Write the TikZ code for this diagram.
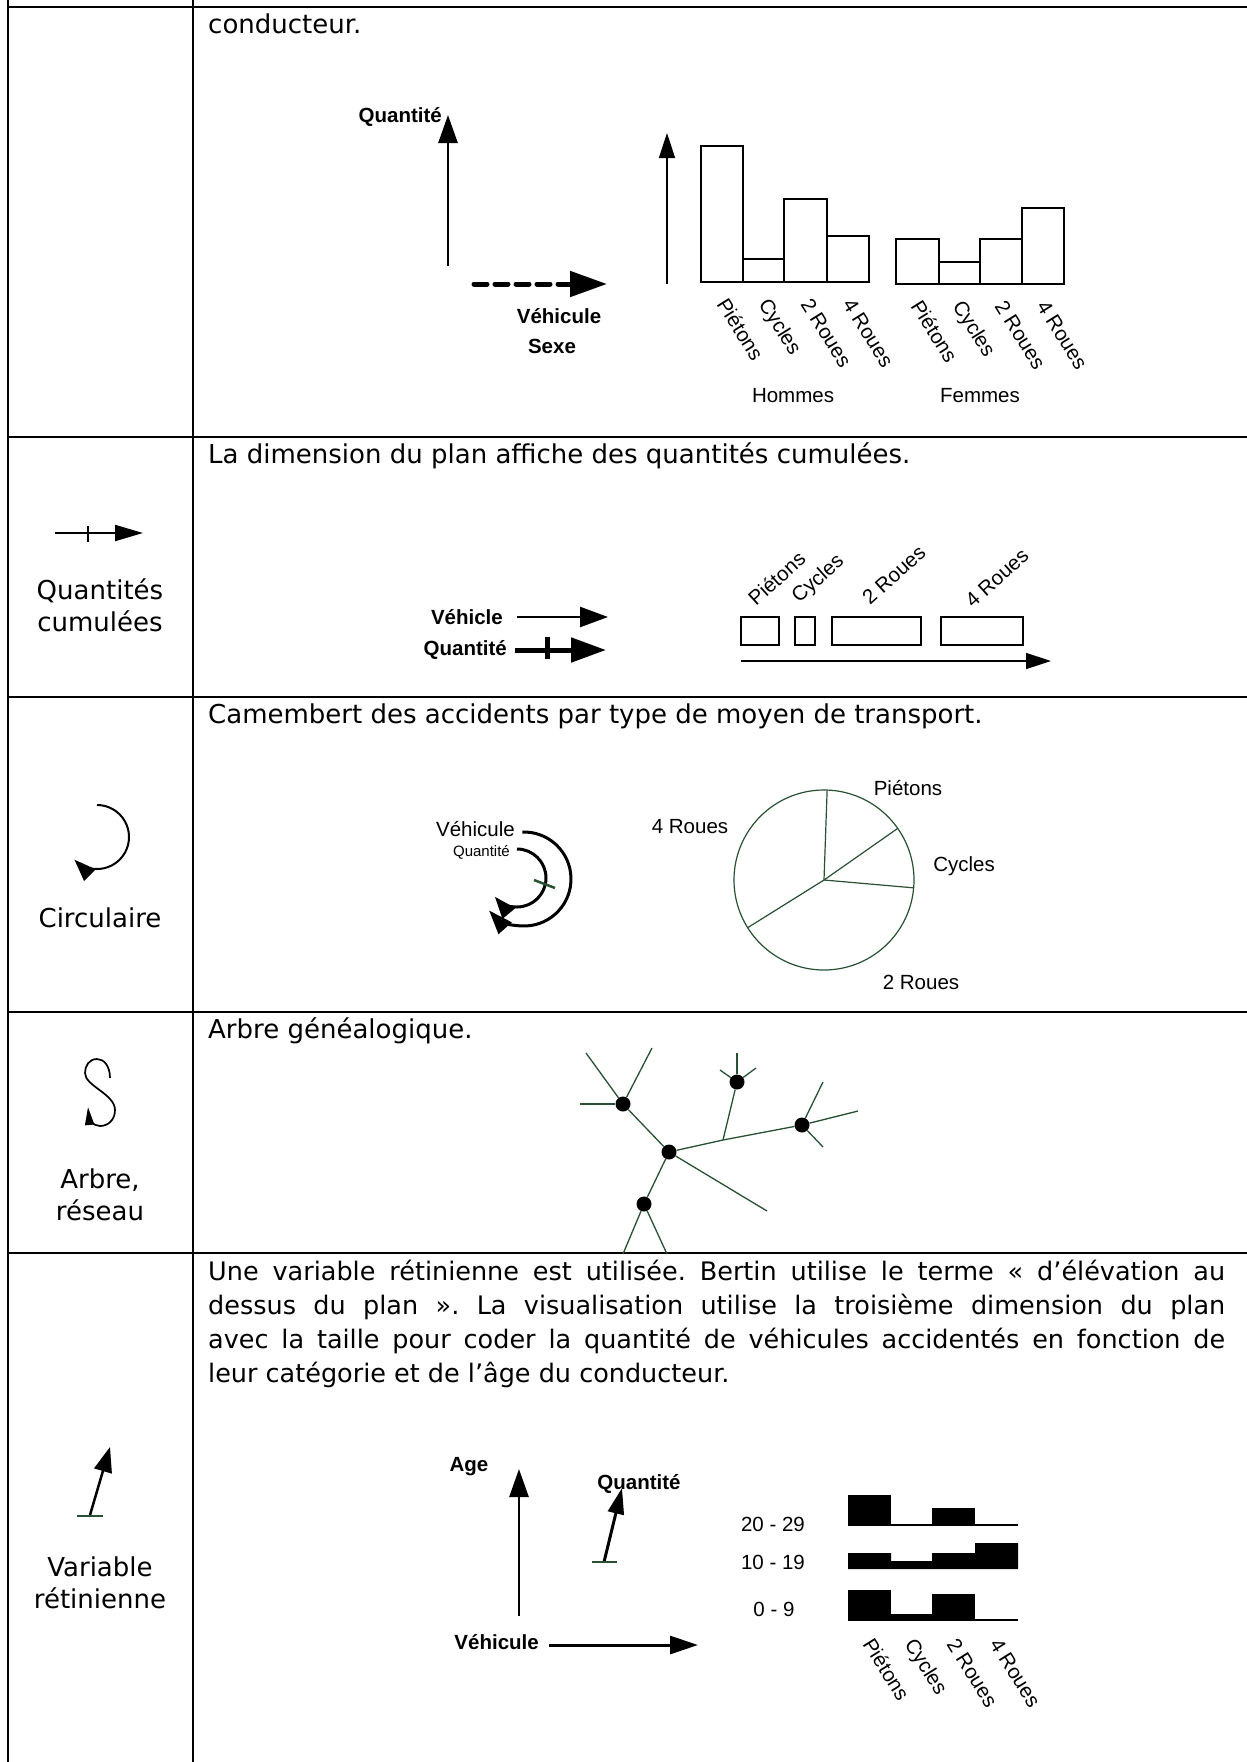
\documentclass[tikz,border=0pt]{standalone}
\usepackage{fontspec}
\setmainfont{DejaVu Sans}
\newfontfamily\chartfont{Liberation Sans}
\usetikzlibrary{positioning,arrows.meta,calc}
\definecolor{rimgreen}{RGB}{40,80,50}
\frenchspacing

\begin{document}
\begin{tikzpicture}[
  x=1pt,y=-1pt,
  rule/.style={line width=2.2pt},
  body/.style={font=\fontsize{26}{33}\selectfont,inner sep=0pt,anchor=base west},
  side/.style={font=\fontsize{26}{32}\selectfont,inner sep=0pt,align=center},
  lbl/.style={font=\chartfont\fontsize{20.5}{24}\selectfont,inner sep=0pt},
  blbl/.style={font=\chartfont\bfseries\fontsize{20.5}{24}\selectfont,inner sep=0pt},
  axis/.style={-{Triangle[length=28pt,width=19pt]},line width=2.7pt},
  thinaxis/.style={-{Triangle[length=25pt,width=16pt]},line width=1.5pt},
  dasharrow/.style={-{Triangle[length=37pt,width=25pt]},line width=5pt,
                    dash pattern=on 13pt off 8pt,line cap=round},
  bar/.style={line width=1.5pt},
  pieline/.style={rimgreen,line width=1.2pt},
  branch/.style={rimgreen,line width=1.3pt},
  knot/.style={circle,fill=black,minimum size=15pt,inner sep=0pt},
]
\useasboundingbox (0,0) rectangle (1247,1762);

% table rules
\draw[rule] (8,0) -- (8,1762);
\draw[rule] (193,0) -- (193,1762);
\foreach \y in {7,437,697,1012,1253}
  \draw[rule] (7,\y) -- (1247,\y);

% ---------------- row 1 : bars
\node[body] (txtA) at (208,33) {conducteur.};

\draw[axis] (448,266) -- (448,115);
\node[blbl,anchor=east] (qtyA) at (442,117) {Quantité};
\draw[dasharrow] (474,284) -- (607,284);
\node[blbl] (vehA) at (559,316) {Véhicule};
\node[blbl] (sexA) at (552,346) {Sexe};

\draw[thinaxis] (667,284) -- (667,133);
\foreach \xa/\xb/\top in {701/743/146,743/784/259,784/827/199,827/869/236}
  \draw[bar] (\xa,282) rectangle (\xb,\top);
\foreach \xa/\xb/\top in {896/939/239,939/980/262,980/1022/239,1022/1064/208}
  \draw[bar] (\xa,284) rectangle (\xb,\top);
\foreach \xc/\name [count=\i] in {722/Piétons,764/Cycles,806/2 Roues,848/4 Roues}
  \node[lbl,rotate=-58,anchor=base west] (hom\i) at (\xc-6,304) {\name};
\foreach \xc/\name [count=\i] in {917/Piétons,959/Cycles,1001/2 Roues,1043/4 Roues}
  \node[lbl,rotate=-58,anchor=base west] (fem\i) at (\xc-7,306) {\name};
\node[lbl] (hom) at (793,396) {Hommes};
\node[lbl] (fem) at (980,396) {Femmes};

% ---------------- row 2 : cumulated quantities
\draw[-{Triangle[length=28pt,width=16pt]},line width=2pt] (55,533) -- (143,533);
\draw[line width=1.5pt] (88,526) -- (88,542);
\node[side] (labB) at (100,605) {Quantités\\cumulées};

\node[body] (txtB) at (208,463) {La dimension du plan affiche des quantités cumulées.};
\node[blbl,anchor=east] (vehB) at (503,617) {Véhicle};
\draw[-{Triangle[length=28pt,width=20pt]},line width=2.5pt] (517,617) -- (608,617);
\node[blbl,anchor=east] (qtyB) at (507,650) {Quantité};
\draw[-{Triangle[length=35pt,width=24pt]},line width=5pt] (515,650) -- (606,650);
\draw[line width=5pt] (547,637) -- (547,659);

\foreach \xa/\xb in {741/779,795/815,832/921,941/1023}
  \draw[bar] (\xa,617) rectangle (\xb,645);
\draw[thinaxis] (741,661) -- (1051,661);
\foreach \x/\y/\name [count=\i] in {756/607/Piétons,799/604/Cycles,870/606/2 Roues,973/609/4 Roues}
  \node[lbl,rotate=42,anchor=base west] (cum\i) at (\x,\y) {\name};

% ---------------- row 3 : pie
\coordinate (circC) at (97,837);
\draw[-{Triangle[length=22pt,width=16pt]},line width=2pt]
  ($(circC)+(90:32pt)$) arc[start angle=90,end angle=-135,radius=32pt];
\node[side,anchor=base] (labC) at (100,927) {Circulaire};

\node[body] (txtC) at (208,723) {Camembert des accidents par type de moyen de transport.};
\node[lbl,anchor=east] (vehC) at (515,829) {Véhicule};
\node[lbl,font=\chartfont\fontsize{15}{18}\selectfont,anchor=east] (qtyC) at (510,852) {Quantité};
\coordinate (vehArc) at (524,879);
\coordinate (qtyArc) at (517,878);
\draw[-{Triangle[length=24pt,width=17pt]},line width=3pt]
  ($(vehArc)+(92:47pt)$) arc[start angle=92,end angle=-138,radius=47pt];
\draw[-{Triangle[length=22pt,width=16pt]},line width=3pt]
  ($(qtyArc)+(90:29pt)$) arc[start angle=90,end angle=-140,radius=29pt];
\draw[rimgreen,line width=2.5pt] (534,880) -- (555,888);

\coordinate (pieC) at (824,880);
\draw[pieline] (pieC) circle[radius=90pt];
\foreach \a in {88,35,-5,-148}
  \draw[pieline] (pieC) -- ++(\a:90pt);
\node[lbl] (pie1) at (908,788) {Piétons};
\node[lbl] (pie2) at (964,866) {Cycles};
\node[lbl] (pie3) at (921,982) {2 Roues};
\node[lbl] (pie4) at (690,827) {4 Roues};

% ---------------- row 4 : tree
\draw[-{Triangle[length=18pt,width=9pt]},line width=1.7pt]
  (110,1078) .. controls (110,1066) and (104,1059) .. (97,1059)
  .. controls (89,1059) and (85,1066) .. (85,1073)
  .. controls (85,1086) and (115,1094) .. (115,1110)
  .. controls (115,1120) and (108,1126) .. (100,1126)
  .. controls (93,1126) and (89,1118) .. (88,1107);
\node[side] (labD) at (100,1195) {Arbre,\\réseau};

\node[body] (txtD) at (208,1038) {Arbre généalogique.};
\node[knot] (tA) at (669,1152) {};
\node[knot] (tB) at (623,1104) {};
\node[knot] (tC) at (737,1082) {};
\node[knot] (tD) at (802,1125) {};
\node[knot] (tE) at (644,1204) {};
\coordinate (tJ) at (723,1140);
\coordinate (fD) at (858,1111);
\draw[branch] (tA) -- (tB);
\draw[branch] (tA) -- (tJ) -- (tD);
\draw[branch] (tD) -- (fD);
\draw[branch] (tJ) -- (tC);
\draw[branch] (tA) -- (tE);
\draw[branch] (tA) -- (767,1211);
\foreach \p in {(586,1053),(652,1048),(580,1104)} \draw[branch] (tB) -- \p;
\foreach \p in {(737,1053),(720,1070),(756,1068)} \draw[branch] (tC) -- \p;
\foreach \p in {(823,1082),(823,1147)} \draw[branch] (tD) -- \p;
\foreach \p in {(623,1254),(667,1254)} \draw[branch] (tE) -- \p;

% ---------------- row 5 : retinal variable
\draw[-{Triangle[length=25pt,width=18pt]},line width=2.5pt] (90,1515) -- (110,1447);
\draw[rimgreen,line width=2.5pt] (77,1516) -- (103,1516);
\node[side] (labE) at (100,1583) {Variable\\rétinienne};

\node[body,font=\fontsize{25.5}{34}\selectfont,anchor=north west,text width=1017pt,align=justify]
  (txtE) at (208,1260)
  {Une variable rétinienne est utilisée. Bertin utilise le terme «~d’élévation au\linebreak
   dessus du plan~». La visualisation utilise la troisième dimension du plan\linebreak
   avec la taille pour coder la quantité de véhicules accidentés en fonction de\linebreak
   leur catégorie et de l’âge du conducteur.};

\node[blbl] (ageE) at (469,1467) {Age};
\draw[axis] (519,1616) -- (519,1469);
\node[blbl] (qtyE) at (639,1484) {Quantité};
\draw[-{Triangle[length=26pt,width=16pt]},line width=3pt] (604,1562) -- (622,1488);
\draw[rimgreen,line width=2.5pt] (592,1562) -- (617,1562);
\node[blbl,anchor=east] (vehE) at (539,1642) {Véhicule};
\draw[-{Triangle[length=28pt,width=18pt]},line width=3pt] (549,1645) -- (698,1645);

\node[lbl] (ag3) at (773,1524) {20 - 29};
\node[lbl] (ag2) at (773,1562) {10 - 19};
\node[lbl] (ag1) at (774,1609) {0 - 9};
% 20 - 29
\fill (848,1525) rectangle (891,1495);
\fill (932,1525) rectangle (975,1508);
\draw[line width=2pt] (848,1525) -- (1018,1525);
% 10 - 19
\fill (848,1569) -- (848,1553) -- (891,1553) -- (891,1561) -- (932,1561) -- (932,1553)
  -- (975,1553) -- (975,1543) -- (1018,1543) -- (1018,1569) -- cycle;
% 0 - 9
\fill (848,1620) rectangle (891,1590);
\fill (891,1620) rectangle (932,1614);
\fill (932,1620) rectangle (975,1594);
\draw[line width=2pt] (848,1620) -- (1018,1620);
\foreach \xc/\name [count=\i] in {869/Piétons,911/Cycles,953/2 Roues,996/4 Roues}
  \node[lbl,rotate=-58,anchor=base west] (veh\i) at (\xc-7,1644) {\name};
\end{tikzpicture}
\end{document}
